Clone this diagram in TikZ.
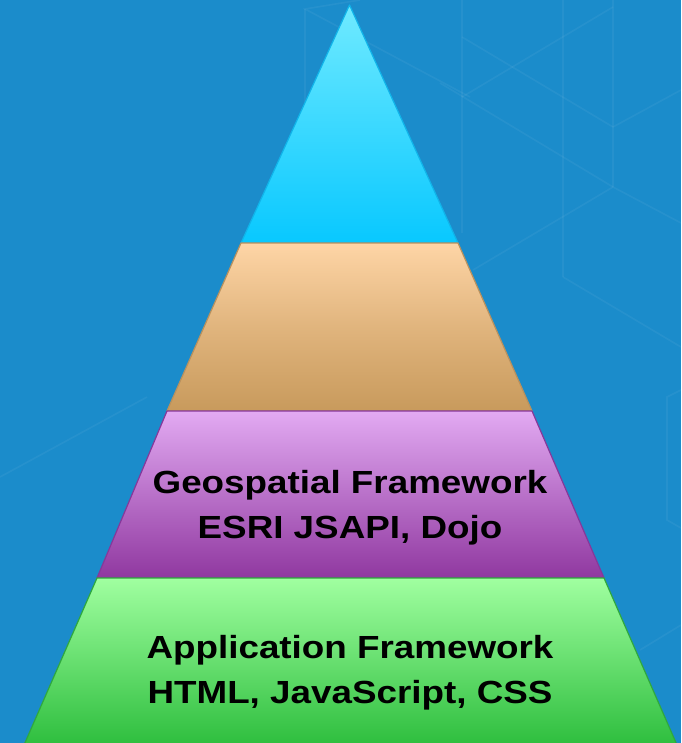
\documentclass[tikz,border=0pt]{standalone}
\usepackage{fontspec}
\setmainfont{Liberation Sans}[FakeStretch=1.15]
\definecolor{bgblue}{HTML}{1B8CCB}
\definecolor{cyanT}{HTML}{70EAFF}
\definecolor{cyanB}{HTML}{08C8FF}
\definecolor{cyanE}{HTML}{10B4EA}
\definecolor{tanT}{HTML}{FED5A6}
\definecolor{tanB}{HTML}{C89A5C}
\definecolor{tanE}{HTML}{B8915E}
\definecolor{purT}{HTML}{E2AAF2}
\definecolor{purB}{HTML}{9038A0}
\definecolor{purE}{HTML}{86389A}
\definecolor{grnT}{HTML}{A0FFA0}
\definecolor{grnB}{HTML}{2EBE3E}
\definecolor{grnE}{HTML}{2FA83E}
\tikzset{
  hexline/.style={white, opacity=0.05, line width=1.6pt},
  layer/.style={line width=1.2pt, line join=round},
  lbl/.style={font=\fontsize{32}{38}\selectfont\bfseries, text=black, inner sep=0pt, anchor=base}
}
\begin{document}
\begin{tikzpicture}[x=1pt,y=-1pt]
\useasboundingbox (0,0) rectangle (681,743);
\fill[bgblue] (0,0) rectangle (681,743);
% faint background pattern
\draw[hexline] (462,0) -- (462,233);
\draw[hexline] (563,0) -- (563,277);
\draw[hexline] (613,0) -- (613,187);
\draw[hexline] (462,37) -- (613,127);
\draw[hexline] (462,97) -- (613,7);
\draw[hexline] (440,83) -- (613,187);
\draw[hexline] (613,187) -- (473,270);
\draw[hexline] (613,127) -- (681,90);
\draw[hexline] (613,187) -- (681,223);
\draw[hexline] (563,277) -- (681,347);
\draw[hexline] (360,0) -- (305,9) -- (470,97);
\draw[hexline] (305,9) -- (305,120);
\draw[hexline] (681,390) -- (667,397) -- (667,520) -- (681,528);
\draw[hexline] (640,650) -- (681,625);
\draw[hexline] (0,477) -- (147,397);
% pyramid coordinates
\coordinate (apex) at (349.5,5);
\coordinate (l1) at (241,243);
\coordinate (r1) at (458,243);
\coordinate (l2) at (167,411);
\coordinate (r2) at (532,411);
\coordinate (l3) at (97,578);
\coordinate (r3) at (604,578);
\coordinate (l4) at (24,745);
\coordinate (r4) at (677,745);
% layers
\shadedraw[layer, top color=cyanT, bottom color=cyanB, draw=cyanE] (apex) -- (r1) -- (l1) -- cycle;
\shadedraw[layer, top color=tanT, bottom color=tanB, middle color=tanB!55!tanT, draw=tanE] (l1) -- (r1) -- (r2) -- (l2) -- cycle;
\shadedraw[layer, top color=purT, bottom color=purB, draw=purE] (l2) -- (r2) -- (r3) -- (l3) -- cycle;
\shadedraw[layer, top color=grnT, bottom color=grnB, draw=grnE] (l3) -- (r3) -- (r4) -- (l4) -- cycle;
% labels
\node[lbl] (geo1) at (350,493) {Geospatial Framework};
\node[lbl] (geo2) at (350,538) {ESRI JSAPI, Dojo};
\node[lbl] (app1) at (350,658) {Application Framework};
\node[lbl] (app2) at (350,703) {HTML, JavaScript, CSS};
\end{tikzpicture}
\end{document}
